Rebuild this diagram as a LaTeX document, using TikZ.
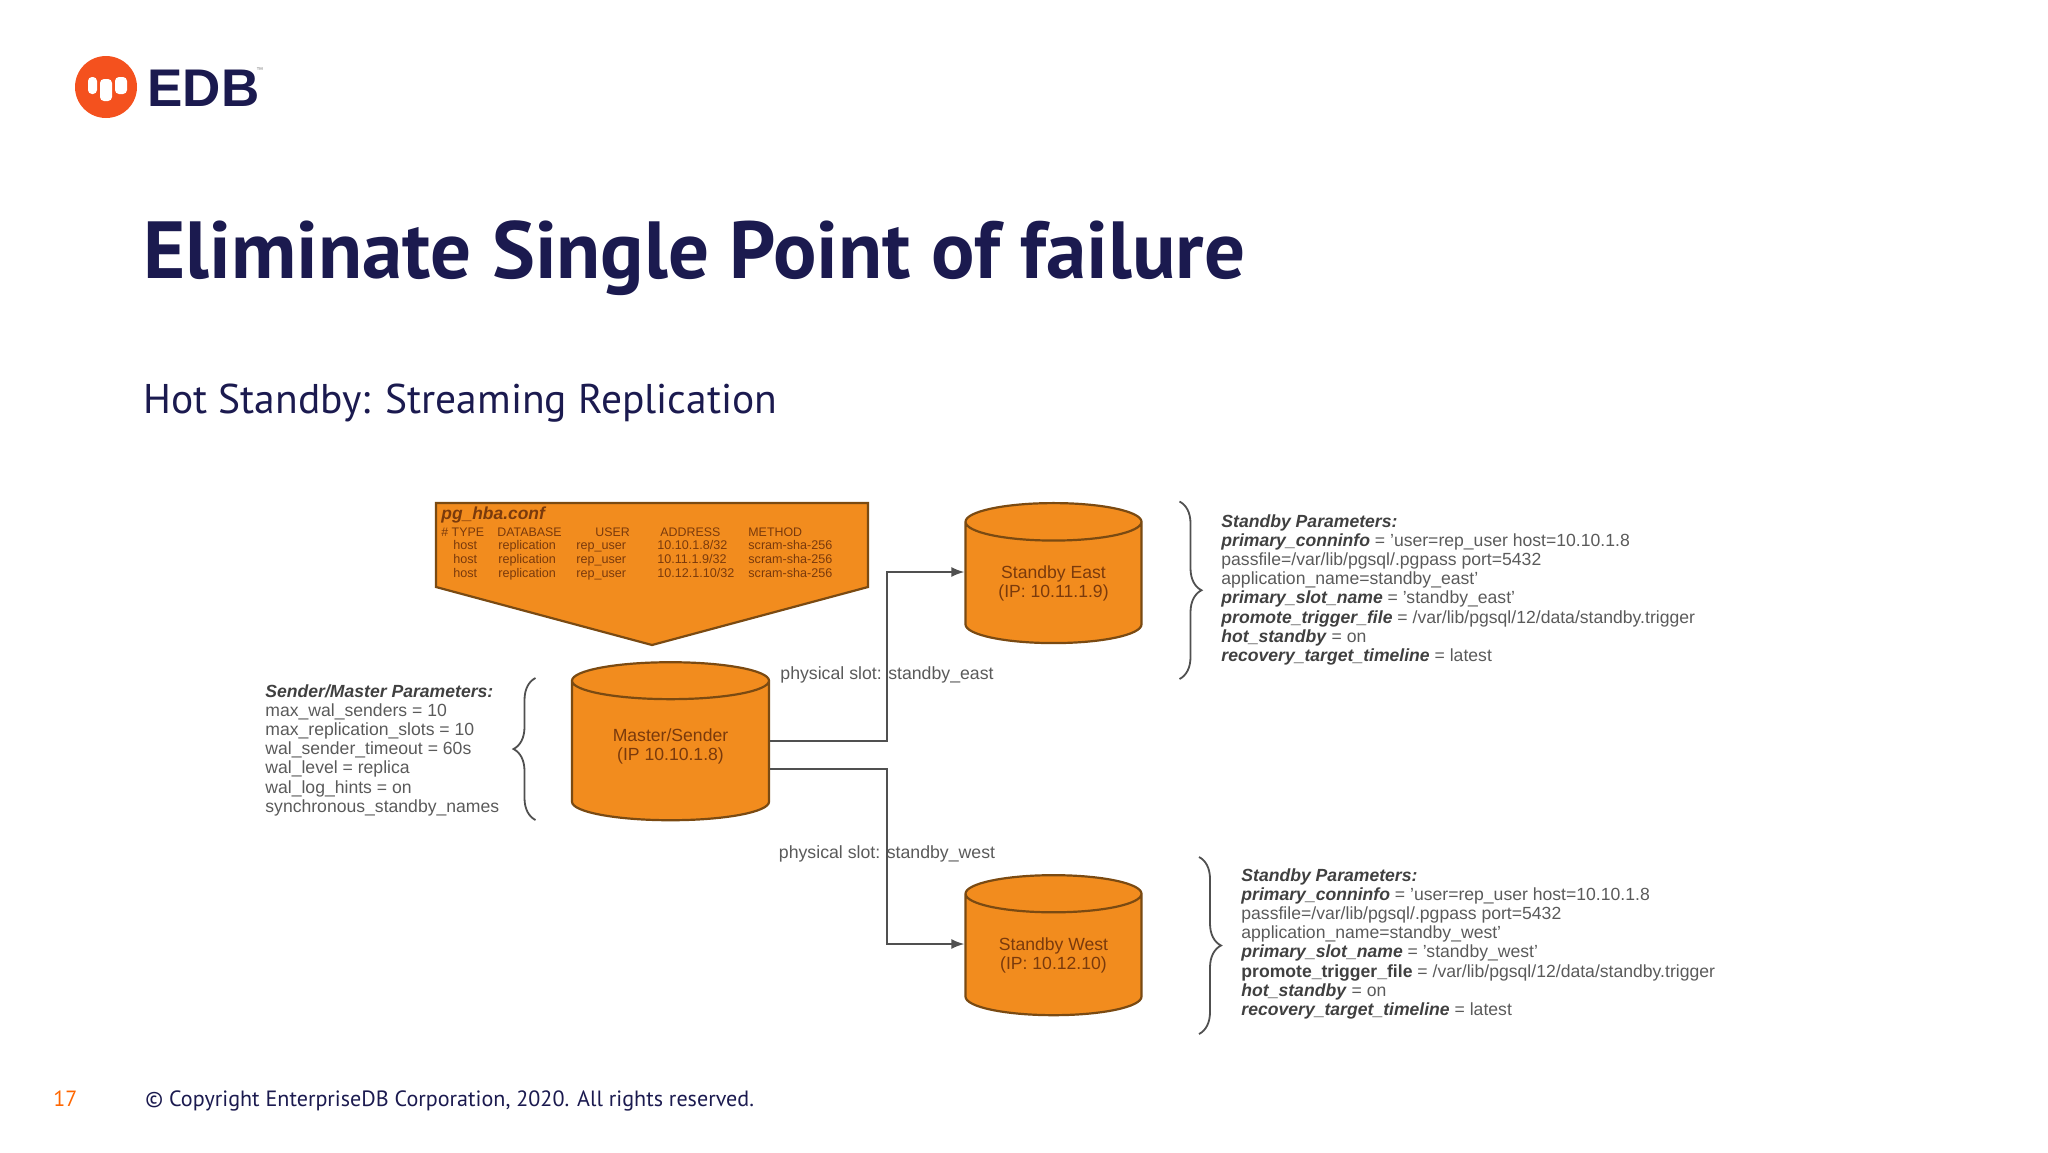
\documentclass[tikz,border=0pt]{standalone}
\usepackage{fontspec}
\setmainfont{Liberation Sans}
\newfontfamily\slidefont{PT Sans}
\usetikzlibrary{arrows.meta,shapes.geometric,decorations.pathreplacing}

\definecolor{edbnavy}{HTML}{1B1A4F}
\definecolor{edbred}{HTML}{F4511E}
\definecolor{dborange}{HTML}{F28C1E}
\definecolor{dbedge}{HTML}{7A4A12}
\definecolor{dbtext}{HTML}{7A3A0C}
\definecolor{linegray}{HTML}{505050}
\definecolor{paramgray}{HTML}{5A5A5A}

\tikzset{
	dbnode/.style={cylinder, shape border rotate=90, draw=dbedge, line width=1.1pt, fill=dborange, cylinder uses custom fill, cylinder body fill=dborange, cylinder end fill=dborange, inner sep=0pt, text=dbtext, align=center, font=\fontsize{8.8}{9.5}\selectfont},
	linkline/.style={draw=linegray, line width=0.9pt, -{Latex[length=6.5pt,width=5pt]}},
	bracemark/.style={draw=linegray, line width=0.9pt, decorate, decoration={brace, amplitude=11pt, aspect=0.5}},
	paramtext/.style={anchor=north west, inner sep=0pt, align=left, text=paramgray, font=\fontsize{8.8}{9.6}\selectfont},
	slotlabel/.style={inner sep=0pt, text=paramgray, font=\fontsize{8.85}{10}\selectfont},
	tablehead/.style={anchor=base west, inner sep=0pt, text=dbtext, font=\fontsize{6.2}{7}\selectfont},
	tablecell/.style={anchor=base west, inner sep=0pt, text=dbtext, font=\fontsize{6.3}{7}\selectfont},
}
\newcommand{\kw}[1]{\textcolor{black!75}{\textbf{\textit{#1}}}}

\begin{document}
\begin{tikzpicture}[x=0.5pt,y=-0.5pt]
	\useasboundingbox (0,0) rectangle (2048,1152);

	% logo
	\fill[edbred] (106,87) circle (31);
	\fill[white, rounded corners=2pt] (88,77) rectangle (97,94);
	\fill[white, rounded corners=2pt] (100,79) rectangle (112,101);
	\fill[white, rounded corners=2pt] (115,77) rectangle (127,94);
	\node[anchor=base west, inner sep=0pt, text=edbnavy, font=\fontsize{26.5}{30}\selectfont\bfseries] (edb) at (147,106) {EDB};
	\node[anchor=base west, inner sep=0pt, text=gray, font=\fontsize{3.5}{4}\selectfont] (edbtm) at (256,72) {™};

	% headings
	\node[anchor=base west, inner sep=0pt, text=edbnavy, font=\slidefont\fontsize{40.5}{46}\selectfont\bfseries] (title) at (143,278) {Eliminate Single Point of failure};
	\node[anchor=base west, inner sep=0pt, text=edbnavy, font=\slidefont\fontsize{20.75}{26}\selectfont] (subtitle) at (143,413) {Hot Standby: Streaming Replication};
	\node[anchor=base west, inner sep=0pt, text=orange!80!red, font=\slidefont\fontsize{11}{13}\selectfont] (pagenum) at (53,1106) {17};
	\node[anchor=base west, inner sep=0pt, text=edbnavy, font=\slidefont\fontsize{11.05}{14}\selectfont] (footer) at (145,1106) {© Copyright EnterpriseDB Corporation, 2020. All rights reserved.};

	% pg_hba banner
	\draw[draw=dbedge, line width=1.1pt, fill=dborange] (436,503) -- (868,503) -- (868,587) -- (652,645) -- (436,587) -- cycle;
	\node[tablehead, font=\fontsize{8.7}{9}\selectfont\bfseries\itshape] (hbaname) at (441,519) {pg\_hba.conf};
	\node[tablehead] (headtype) at (441,536) {\# TYPE};
	\node[tablehead] (headdb) at (497,536) {DATABASE};
	\node[tablehead] (headuser) at (595,536) {USER};
	\node[tablehead] (headaddr) at (660,536) {ADDRESS};
	\node[tablehead] (headmeth) at (748,536) {METHOD};
	\foreach \row/\ypos/\addr in {a/549/10.10.1.8\slash 32, b/563/10.11.1.9\slash 32, c/577/10.12.1.10\slash 32}{
		\node[tablecell] (host\row) at (453,\ypos) {host};
		\node[tablecell] (repl\row) at (498,\ypos) {replication};
		\node[tablecell] (user\row) at (576,\ypos) {rep\_user};
		\node[tablecell] (addr\row) at (657,\ypos) {\addr};
		\node[tablecell] (meth\row) at (748,\ypos) {scram-sha-256};
	}

	% databases
	\node[dbnode, aspect=0.32, minimum width=98.5pt, minimum height=79pt, text depth=6.4pt] (master) at (670.5,751) {Master/Sender\\(IP 10.10.1.8)};
	\node[dbnode, aspect=0.34, minimum width=88pt, minimum height=70pt] (east) at (1053.5,583) {Standby East\\(IP: 10.11.1.9)};
	\node[dbnode, aspect=0.34, minimum width=88pt, minimum height=70pt] (west) at (1053.5,955) {Standby West\\(IP: 10.12.10)};

	% links
	\coordinate (bendeast) at (887,660);
	\coordinate (bendwest) at (887,860);
	\draw[linkline] ([yshift=5pt]master.east) -| (bendeast) |- ([yshift=5.5pt]east.west);
	\draw[linkline] ([yshift=-9pt]master.east) -| (bendwest) |- ([yshift=5.5pt]west.west);
	\node[slotlabel] (sloteast) at (887,675) {physical slot: standby\_east};
	\node[slotlabel] (slotwest) at (887,854) {physical slot: standby\_west};

	% braces
	\draw[bracemark] (535.5,820) -- (535.5,678);
	\draw[bracemark] (1179.5,501.5) -- (1179.5,679);
	\draw[bracemark] (1199,857) -- (1199,1034);

	% parameter lists
	\node[paramtext] (senderparams) at (265,684) {\kw{Sender/Master Parameters:}\\max\_wal\_senders = 10\\max\_replication\_slots = 10\\wal\_sender\_timeout = 60s\\wal\_level = replica\\wal\_log\_hints = on\\synchronous\_standby\_names};
	\node[paramtext] (eastparams) at (1221,514) {\kw{Standby Parameters:}\\\kw{primary\_conninfo} = 'user=rep\_user host=10.10.1.8\\passfile=/var/lib/pgsql/.pgpass port=5432\\application\_name=standby\_east'\\\kw{primary\_slot\_name} = 'standby\_east'\\\kw{promote\_trigger\_file} = /var/lib/pgsql/12/data/standby.trigger\\\kw{hot\_standby} = on\\\kw{recovery\_target\_timeline} = latest};
	\node[paramtext] (westparams) at (1241,868) {\kw{Standby Parameters:}\\\kw{primary\_conninfo} = 'user=rep\_user host=10.10.1.8\\passfile=/var/lib/pgsql/.pgpass port=5432\\application\_name=standby\_west'\\\kw{primary\_slot\_name} = 'standby\_west'\\\textcolor{black!75}{\textbf{promote\_trigger\_file}} = /var/lib/pgsql/12/data/standby.trigger\\\kw{hot\_standby} = on\\\kw{recovery\_target\_timeline} = latest};
\end{tikzpicture}
\end{document}
